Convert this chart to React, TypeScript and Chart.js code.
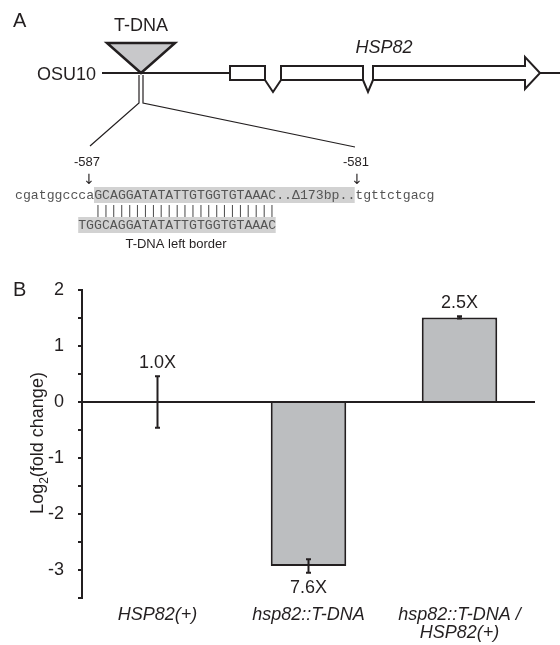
import React, { useEffect, useRef } from "react";
import { Chart, registerables } from "chart.js";

Chart.register(...registerables);

// ---- Panel B data ----
const categories: (string | string[])[] = [
  "HSP82(+)",
  "hsp82::T-DNA",
  ["hsp82::T-DNA /", "HSP82(+)"],
];
const log2Fold = [0, -2.93, 1.51];
const errors = [0.46, 0.12, 0.02];
const foldLabels = ["1.0X", "7.6X", "2.5X"];
const yMin = -3.5;
const yMax = 2;
const yStep = 0.5;

// ---- Panel A text ----
const genomicPrefix = "cgatggccca";
const genomicInsert = "GCAGGATATATTGTGGTGTAAAC..\u0394173bp..";
const genomicSuffix = "tgttctgacg";
const borderSeq = "TGGCAGGATATATTGTGGTGTAAAC";
const matchBars = "|||||||||||||||||||||||";
const posLeft = "-587";
const posRight = "-581";

const DARK = "#231f20";
const SANS = '"Liberation Sans", Arial, sans-serif';
const MONO = '"Liberation Mono", "Courier New", monospace';

function drawPanelA(ctx: CanvasRenderingContext2D) {
  ctx.save();
  ctx.fillStyle = DARK;
  ctx.strokeStyle = DARK;
  ctx.textBaseline = "alphabetic";

  // Panel letters
  ctx.textAlign = "left";
  ctx.font = `20px ${SANS}`;
  ctx.fillText("A", 13, 27);
  ctx.fillText("B", 13, 296);

  // Labels
  ctx.font = `18px ${SANS}`;
  ctx.textAlign = "center";
  ctx.fillText("T-DNA", 141, 31);
  ctx.textAlign = "right";
  ctx.fillText("OSU10", 96, 80);
  ctx.textAlign = "center";
  ctx.font = `italic 18px ${SANS}`;
  ctx.fillText("HSP82", 384, 53);

  // genomic line
  ctx.lineWidth = 2;
  ctx.beginPath();
  ctx.moveTo(102, 73);
  ctx.lineTo(230, 73);
  ctx.moveTo(540, 73);
  ctx.lineTo(560, 73);
  ctx.stroke();

  // T-DNA triangle
  ctx.beginPath();
  ctx.moveTo(107, 43);
  ctx.lineTo(175, 43);
  ctx.lineTo(141, 73);
  ctx.closePath();
  ctx.fillStyle = "#c8c8ca";
  ctx.fill();
  ctx.lineWidth = 2.5;
  ctx.lineJoin = "miter";
  ctx.stroke();

  // gene model
  ctx.lineWidth = 2;
  ctx.fillStyle = "#ffffff";
  ctx.beginPath();
  ctx.rect(230, 66, 35, 14);
  ctx.fill();
  ctx.stroke();
  ctx.beginPath();
  ctx.rect(281, 66, 82, 14);
  ctx.fill();
  ctx.stroke();
  // arrow exon
  ctx.beginPath();
  ctx.moveTo(373, 66);
  ctx.lineTo(525, 66);
  ctx.lineTo(525, 57);
  ctx.lineTo(540, 73);
  ctx.lineTo(525, 89);
  ctx.lineTo(525, 80);
  ctx.lineTo(373, 80);
  ctx.closePath();
  ctx.fill();
  ctx.stroke();
  // introns
  ctx.beginPath();
  ctx.moveTo(265, 80);
  ctx.lineTo(273, 92);
  ctx.lineTo(281, 80);
  ctx.moveTo(363, 80);
  ctx.lineTo(368, 92);
  ctx.lineTo(373, 80);
  ctx.stroke();

  // zoom lines
  ctx.lineWidth = 1.2;
  ctx.beginPath();
  ctx.moveTo(139, 75);
  ctx.lineTo(139, 103);
  ctx.lineTo(90, 146);
  ctx.moveTo(143, 75);
  ctx.lineTo(143, 103);
  ctx.lineTo(355, 147);
  ctx.stroke();

  // positions
  ctx.fillStyle = DARK;
  ctx.font = `13px ${SANS}`;
  ctx.textAlign = "center";
  ctx.fillText(posLeft, 87, 166);
  ctx.fillText(posRight, 356, 166);
  ctx.font = `14px "DejaVu Sans", sans-serif`;
  ctx.fillText("\u2193", 89, 184);
  ctx.fillText("\u2193", 357, 184);

  // sequences
  const cw = 7.9;
  const x0 = 15;
  const xIns = x0 + genomicPrefix.length * cw;
  const xSuf = xIns + genomicInsert.length * cw;
  ctx.fillStyle = "#d2d2d2";
  ctx.fillRect(xIns, 187, xSuf - xIns, 16);
  const xB = xIns - 2 * cw;
  ctx.fillRect(xB, 217, borderSeq.length * cw, 16);

  ctx.font = `13.2px ${MONO}`;
  ctx.textAlign = "left";
  ctx.fillStyle = "#555555";
  ctx.fillText(genomicPrefix + genomicInsert + genomicSuffix, x0, 199);
  ctx.fillText(matchBars, xIns, 214);
  ctx.fillText(borderSeq, xB, 229);

  ctx.fillStyle = DARK;
  ctx.font = `13px ${SANS}`;
  ctx.textAlign = "center";
  ctx.fillText("T-DNA left border", 176, 248);
  ctx.restore();
}

const annotationPlugin = {
  id: "annotations",
  beforeDraw(chart: any) {
    drawPanelA(chart.ctx);
  },
  afterDatasetsDraw(chart: any) {
    const ctx: CanvasRenderingContext2D = chart.ctx;
    const xs = chart.scales.x;
    const ys = chart.scales.y;
    const area = chart.chartArea;
    ctx.save();
    ctx.strokeStyle = DARK;
    ctx.fillStyle = DARK;
    ctx.lineWidth = 2;
    // zero baseline drawn over the bars
    const y0 = ys.getPixelForValue(0);
    ctx.beginPath();
    ctx.moveTo(area.left, y0);
    ctx.lineTo(area.right, y0);
    ctx.stroke();

    log2Fold.forEach((v, i) => {
      const x = xs.getPixelForValue(i);
      const yTop = ys.getPixelForValue(v + errors[i]);
      const yBot = ys.getPixelForValue(v - errors[i]);
      ctx.beginPath();
      ctx.moveTo(x, yTop);
      ctx.lineTo(x, yBot);
      ctx.moveTo(x - 2.5, yTop);
      ctx.lineTo(x + 2.5, yTop);
      ctx.moveTo(x - 2.5, yBot);
      ctx.lineTo(x + 2.5, yBot);
      ctx.stroke();
      ctx.font = `18px ${SANS}`;
      ctx.textAlign = "center";
      ctx.textBaseline = "alphabetic";
      if (v < 0) ctx.fillText(foldLabels[i], x, yBot + 20);
      else ctx.fillText(foldLabels[i], x, yTop - 8);
    });
    // y-axis title with subscript
    ctx.translate(38.5, 443);
    ctx.rotate(-Math.PI / 2);
    const partA = "Log";
    const sub = "2";
    const partB = "(fold change)";
    ctx.font = `18px ${SANS}`;
    const wA = ctx.measureText(partA).width;
    const wB = ctx.measureText(partB).width;
    ctx.font = `12px ${SANS}`;
    const wS = ctx.measureText(sub).width;
    const total = wA + wS + wB;
    let cx = -total / 2;
    ctx.textAlign = "left";
    ctx.textBaseline = "middle";
    ctx.font = `18px ${SANS}`;
    ctx.fillText(partA, cx, 0);
    cx += wA;
    ctx.font = `12px ${SANS}`;
    ctx.fillText(sub, cx, 6);
    cx += wS;
    ctx.font = `18px ${SANS}`;
    ctx.fillText(partB, cx, 0);
    ctx.restore();
  },
};

export default function App() {
  const ref = useRef<HTMLCanvasElement | null>(null);
  useEffect(() => {
    if (!ref.current) return;
    const chart = new Chart(ref.current, {
      type: "bar",
      data: {
        labels: categories as any,
        datasets: [
          {
            data: log2Fold,
            backgroundColor: "#bcbec0",
            borderColor: DARK,
            borderWidth: 2,
            borderSkipped: "start",
            inflateAmount: 0,
            barPercentage: 0.5,
            categoryPercentage: 1,
          } as any,
        ],
      },
      options: {
        animation: false,
        responsive: false,
        devicePixelRatio: 1,
        layout: { padding: { top: 290, right: 25, bottom: 0, left: 0 } },
        plugins: { legend: { display: false }, tooltip: { enabled: false } },
        scales: {
          x: {
            grid: { display: false, drawTicks: false },
            border: { display: false },
            ticks: {
              color: DARK,
              padding: 8,
              maxRotation: 0,
              font: { family: SANS, size: 18, style: "italic", lineHeight: 1.0 },
            },
            afterFit: (s: any) => {
              s.height = 47;
            },
          },
          y: {
            min: yMin,
            max: yMax,
            ticks: {
              stepSize: yStep,
              color: DARK,
              padding: 14,
              font: { family: SANS, size: 18 },
              callback: (v: any) => (Number.isInteger(Number(v)) ? String(v) : ""),
            },
            grid: {
              drawOnChartArea: false,
              tickColor: DARK,
              tickLength: 4,
              lineWidth: 2,
            },
            border: { display: true, color: DARK, width: 2 },
            afterFit: (s: any) => {
              s.width = 82;
            },
          },
        },
      },
      plugins: [annotationPlugin],
    });
    return () => chart.destroy();
  }, []);
  return (
    <div style={{ position: "absolute", left: 0, top: 0, width: 560, height: 645, background: "#fff" }}>
      <canvas ref={ref} width={560} height={645} style={{ display: "block", width: 560, height: 645 }} />
    </div>
  );
}
